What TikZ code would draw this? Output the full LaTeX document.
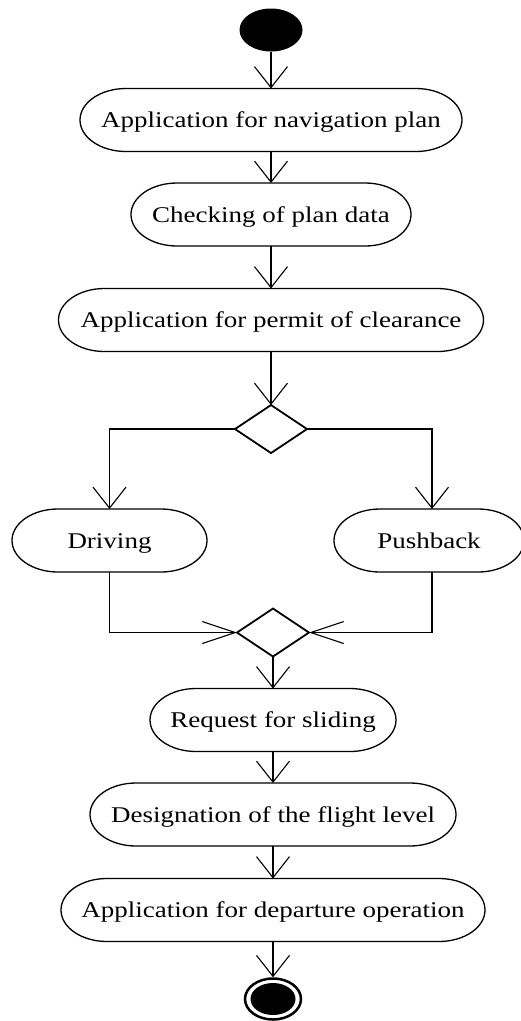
\documentclass[tikz,border=0pt]{standalone}
\usepackage{fontspec}
\setmainfont[FakeStretch=1.2]{Liberation Serif}
\usetikzlibrary{arrows.meta}
\usetikzlibrary{shapes.geometric}

\begin{document}
\begin{tikzpicture}[x=1pt, y=1pt,
    act/.style={rectangle, minimum height=63pt, inner sep=0pt, outer sep=0pt,
      font=\fontsize{22.5}{27}\selectfont, text height=15pt, text depth=0pt},
    actline/.style={line width=1.3pt},
    branch/.style={diamond, draw, line width=1.8pt, minimum width=72pt,
      minimum height=48pt, inner sep=0pt, outer sep=0pt},
    flow/.style={line width=1.1pt, -{Straight Barb[length=21pt, width=33pt]}},
    sideflow/.style={line width=1.1pt, -{Straight Barb[length=33pt, width=22pt]}}]
  \useasboundingbox (0, 0) rectangle (520, -1021);

  \node (init) [ellipse, fill, minimum width=63pt, minimum height=43pt, inner sep=0pt, outer sep=0pt] at (271, -30) {};
  \node (navplan) [act, minimum width=382pt] at (271, -120) {Application for navigation plan};
  \node (checkplan) [act, minimum width=280pt] at (271, -214.5) {Checking of plan data};
  \node (permit) [act, minimum width=425pt] at (271, -320) {Application for permit of clearance};
  \node (dec1) [branch] at (271, -429) {};
  \node (driving) [act, minimum width=195pt] at (109.5, -540.5) {Driving};
  \node (pushback) [act, minimum width=190pt] at (429, -540.5) {Pushback};
  \node (merge) [branch] at (273, -632.5) {};
  \node (sliding) [act, minimum width=246pt] at (273, -720) {Request for sliding};
  \node (level) [act, minimum width=366pt] at (273, -814.5) {Designation of the flight level};
  \node (departure) [act, minimum width=424pt] at (273, -910) {Application for departure operation};
  \node (final) [ellipse, draw, line width=2.5pt, minimum width=56pt, minimum height=41pt, inner sep=0pt] at (273, -999) {};
  \fill (final.center) ellipse [x radius=22.5pt, y radius=16pt];

  \foreach \n in {navplan, checkplan, permit, driving, pushback, sliding, level, departure}
    \draw [actline] ([xshift=46pt]\n.north west) -- ([xshift=-46pt]\n.north east)
      arc [start angle=90, end angle=-90, x radius=46pt, y radius=31.5pt]
      -- ([xshift=46pt]\n.south west)
      arc [start angle=270, end angle=90, x radius=46pt, y radius=31.5pt];

  \draw [flow] (init.south) -- (navplan.north);
  \draw [flow] (navplan.south) -- (checkplan.north);
  \draw [flow] (checkplan.south) -- (permit.north);
  \draw [flow] (permit.south) -- (dec1.north);
  \draw [flow] (dec1.west) -| (driving.north);
  \draw [flow] (dec1.east) -| ([xshift=3pt]pushback.north);
  \draw [sideflow] (driving.south) |- (merge.west);
  \draw [sideflow] ([xshift=3pt]pushback.south) |- (merge.east);
  \draw [flow] (merge.south) -- (sliding.north);
  \draw [flow] (sliding.south) -- (level.north);
  \draw [flow] (level.south) -- (departure.north);
  \draw [flow] (departure.south) -- (final.north);
\end{tikzpicture}
\end{document}
